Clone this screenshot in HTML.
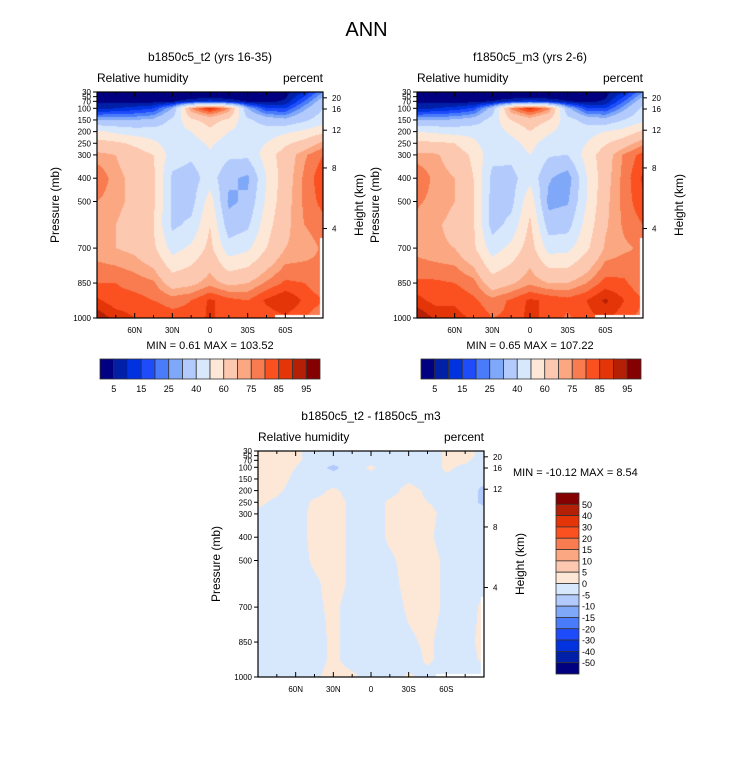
<!DOCTYPE html>
<html><head><meta charset="utf-8">
<style>
body{margin:0;background:#fff;}
#wrap{position:relative;width:733px;height:772px;font-family:"Liberation Sans",Arial,sans-serif;color:#000;overflow:hidden}
.t{position:absolute;white-space:nowrap}
canvas{position:absolute}
svg{position:absolute;left:0;top:0}
</style></head><body>
<div id="wrap">
<div class="t" style="left:0;width:733px;text-align:center;top:19px;font-size:20px">ANN</div>
<svg id="ax" width="733" height="772"></svg>
</div>
<script>
const lats=[90,75,60,45,30,15,0,-15,-30,-45,-60,-75,-90];
const levels=[30,50,70,100,150,200,250,300,400,500,600,700,850,925,1000];
const rhLevels=[5,10,15,20,25,30,40,50,60,70,75,80,85,90,95];
const diffLevels=[-50,-40,-30,-20,-15,-10,-5,0,5,10,15,20,30,40,50];
const rhTickLabels=["5","15","25","40","60","75","85","95"];
const diffTickLabels=["50","40","30","20","15","10","5","0","-5","-10","-15","-20","-30","-40","-50"];
const pTicks=[30,50,70,100,150,200,250,300,400,500,700,850,1000];
const latTicks=[60,30,0,-30,-60];
const latTickLabels=["60N","30N","0","30S","60S"];
const hTicks=[20,16,12,8,4];
const hTickP=[55,103,194,356,616];
const palette=["#000080","#0020a8","#0032e0","#1e4cfa","#4a7cfa","#80a8f8","#b3cbfc","#d7e8fd","#fde8d8","#fdc8b0","#fba882","#f87c4f","#fb5020","#e43508","#b42005","#850000"];
const rhA=[
[3,2,2,2,2,2,2,2,2,2,3,10,25],
[3,2,2,2,2,2,3,2,2,2,4,15,30],
[4,3,3,3,4,8,12,8,4,3,6,20,35],
[8,10,12,15,30,75,88,75,30,15,15,28,40],
[30,30,30,32,42,58,64,58,42,35,32,38,45],
[52,48,45,45,45,50,58,50,45,45,48,52,58],
[64,62,58,52,45,45,52,45,45,50,58,64,72],
[72,70,65,60,45,42,48,42,42,55,65,74,80],
[80,72,68,62,38,35,45,32,28,50,66,76,84],
[75,72,68,62,38,36,55,28,32,52,67,76,82],
[72,70,66,60,38,42,60,34,38,56,68,75,78],
[72,70,68,62,46,52,63,44,48,60,70,72,76],
[80,80,78,76,66,68,73,68,70,76,81,80,76],
[86,82,82,80,78,80,86,82,80,86,90,84,80],
[94,88,85,84,82,82,86,82,80,82,84,80,76]];
const rhB=[
[3,2,2,2,2,2,2,2,2,2,3,10,25],
[3,2,2,2,2,2,3,2,2,2,4,15,30],
[4,3,3,3,5,9,13,9,5,3,6,20,36],
[8,10,12,16,34,76,88,76,32,16,15,28,42],
[30,30,31,34,44,60,66,60,44,36,33,40,48],
[50,48,46,47,45,52,60,52,44,46,50,54,62],
[62,62,60,52,44,46,54,44,44,50,59,66,74],
[72,71,66,58,43,43,50,41,40,54,66,76,82],
[80,73,70,60,37,36,47,31,25,49,67,77,86],
[76,73,70,61,36,37,57,27,29,50,68,77,84],
[73,71,68,61,36,43,62,35,36,54,69,76,80],
[73,71,70,62,45,53,65,46,47,58,71,74,76],
[81,81,80,77,65,69,74,70,70,75,82,81,76],
[87,83,84,81,77,81,86,84,82,85,91,85,80],
[95,89,87,84,80,81,87,83,79,83,86,82,78]];
const diffA=[
[2,2,1,-2,-3,-3,-3,-3,-3,-3,1,2,-2],
[2,2,1,-2,-3,-3,-3,-3,-3,-3,1,2,-2],
[2,2,1,-2,-3,-3,-2,-3,-3,-3,1,1,-3],
[2,2,0,-3,-6,-3,1,-3,-4,-3,1,-1,-3],
[2,2,-1,-3,-3,-3,-2,-3,-1,-3,-1,-3,-4],
[2,1,-2,-2,1,-2,-3,-2,2,-1,-2,-3,-6],
[1,-1,-3,1,2,-1,-3,1,2,0,-1,-3,-6],
[-1,-2,-3,2,2,-1,-3,1,2,1,-1,-2,-3],
[-2,-2,-3,2,2,-1,-3,1,2,1,-2,-2,-3],
[-2,-2,-3,1,2,-1,-3,-1,2,2,-1,-2,-3],
[-2,-2,-3,-1,2,-1,-3,-2,2,2,-1,-2,-1],
[-2,-2,-3,-1,1,-2,-3,-3,1,2,-1,-2,1],
[-2,-2,-3,-2,1,-2,-2,-3,-1,1,-2,-1,1],
[-2,-1,-3,-2,1,-2,-1,-3,-3,1,-2,-2,1],
[-2,-2,-3,-1,2,1,-2,-2,1,-2,-3,-3,-3]];

const svg=document.getElementById('ax');
const NS='http://www.w3.org/2000/svg';
const wrap=document.getElementById('wrap');
function mk(tag,attrs,parent){const e=document.createElementNS(NS,tag);for(const k in attrs)e.setAttribute(k,attrs[k]);(parent||svg).appendChild(e);return e;}
function txt(x,y,s,size,anchor,name,rot){const e=mk('text',{x:x,y:y,'font-size':size,'text-anchor':anchor||'middle','font-family':'Liberation Sans, Arial, sans-serif'});
 
 
 if(rot)e.setAttribute('transform','rotate(-90 '+x+' '+y+')');e.textContent=s;return e;}
function sample(grid,lat,p){
 let fi=(90-lat)/15;let i=Math.min(Math.floor(fi),lats.length-2);let fx=fi-i;
 let j=0;while(j<levels.length-2&&levels[j+1]<p)j++;
 let fy=(p-levels[j])/(levels[j+1]-levels[j]);fy=Math.max(0,Math.min(1,fy));
 const a=grid[j][i],b=grid[j][i+1],c=grid[j+1][i],d=grid[j+1][i+1];
 return (a*(1-fx)+b*fx)*(1-fy)+(c*(1-fx)+d*fx)*fy;}
function colorIdx(v,lv){let k=0;while(k<lv.length&&v>=lv[k])k++;return k;}
function hex(h){return [parseInt(h.substr(1,2),16),parseInt(h.substr(3,2),16),parseInt(h.substr(5,2),16)];}
const palRGB=palette.map(hex);
function panel(x0,y0,grid,lv,title,minmax,name,mmRight){
 const W=226,H=226;
 const xs=lat=>x0+(90-lat)/180*W;
 const ys=p=>y0+(p-30)/970*H;
 const cv=document.createElement('canvas');cv.width=W;cv.height=H;cv.style.left=x0+'px';cv.style.top=y0+'px';
 
 
 wrap.insertBefore(cv,svg);
 const ctx=cv.getContext('2d');const img=ctx.createImageData(W,H);
 for(let py=0;py<H;py++){const p=30+(py+0.5)/H*970;
  for(let px=0;px<W;px++){const lat=90-(px+0.5)/W*180;
   const v=sample(grid,lat,p);const c=palRGB[colorIdx(v,lv)];const o=(py*W+px)*4;
   img.data[o]=c[0];img.data[o+1]=c[1];img.data[o+2]=c[2];img.data[o+3]=255;}}
 ctx.putImageData(img,0,0);
 ctx.fillStyle='#fff';ctx.fillRect(W-48,H-3,48,3);ctx.fillRect(W-3,H-80,3,80);
 const g=mk('g',{});
 
 
 const fr=mk('rect',{x:x0,y:y0,width:W,height:H,fill:'none',stroke:'#000','stroke-width':1.2},g);
 
 
 pTicks.forEach(p=>{const y=ys(p);mk('line',{x1:x0-4,x2:x0,y1:y,y2:y,stroke:'#000'},g);
   txt(x0-6,y+3,String(p),8,'end',name+'-pressure-tick',false);});
 for(let la=75;la>=-75;la-=15){const x=xs(la);const big=latTicks.indexOf(la)>=0;
   mk('line',{x1:x,x2:x,y1:y0+H,y2:y0+H-(big?5:3),stroke:'#000'},g);
   mk('line',{x1:x,x2:x,y1:y0,y2:y0+(big?5:3),stroke:'#000'},g);}
 latTicks.forEach((la,k)=>{txt(xs(la),y0+H+15,latTickLabels[k],8,'middle',name+'-lat-tick');});
 hTicks.forEach((h,k)=>{const y=ys(hTickP[k]);mk('line',{x1:x0+W,x2:x0+W+4,y1:y,y2:y,stroke:'#000'},g);
   txt(x0+W+9,y+3,String(h),8,'start',name+'-height-tick');});
 txt(x0-38,y0+H/2,'Pressure (mb)',12,'middle',name+'-y-axis-title',true);
 txt(x0+W+40,y0+H/2,'Height (km)',12,'middle',name+'-y2-axis-title',true);
 txt(x0+W/2,y0-31,title,12,'middle',name+'-title');
 txt(x0,y0-10,'Relative humidity',12,'start',name+'-variable-label');
 txt(x0+W,y0-10,'percent',12,'end',name+'-units-label');
 if(mmRight)txt(x0+W+29,y0+25,minmax,11,'start',name+'-minmax');
 else txt(x0+W/2,y0+H+31,minmax,11,'middle',name+'-minmax');
}
function hbar(x0,y0,name){const w=220/16;
 palette.forEach((c,k)=>{const r=mk('rect',{x:x0+k*w,y:y0,width:w,height:20,fill:c,stroke:'#333','stroke-width':0.8});
  
  });
 rhTickLabels.forEach((s,k)=>{txt(x0+(2*k+1)*w,y0+33,s,9,'middle',name+'-label');});}
function vbar(x0,y0,name){const h=181/16;
 palette.slice().reverse().forEach((c,k)=>{const r=mk('rect',{x:x0,y:y0+k*h,width:23,height:h,fill:c,stroke:'#333','stroke-width':0.8});
  
  });
 diffTickLabels.forEach((s,k)=>{txt(x0+26,y0+(k+1)*h+3.5,s,9,'start',name+'-label');});}
panel(97,92,rhA,rhLevels,'b1850c5_t2 (yrs 16-35)','MIN =   0.61  MAX = 103.52','left-panel',false);
panel(417,92,rhB,rhLevels,'f1850c5_m3 (yrs 2-6)','MIN =   0.65  MAX = 107.22','right-panel',false);
panel(258,451,diffA,diffLevels,'b1850c5_t2 - f1850c5_m3','MIN = -10.12  MAX =   8.54','diff-panel',true);
hbar(100,359,'left-colorbar');
hbar(421,359,'right-colorbar');
vbar(556,493,'diff-colorbar');
</script>
</body></html>
